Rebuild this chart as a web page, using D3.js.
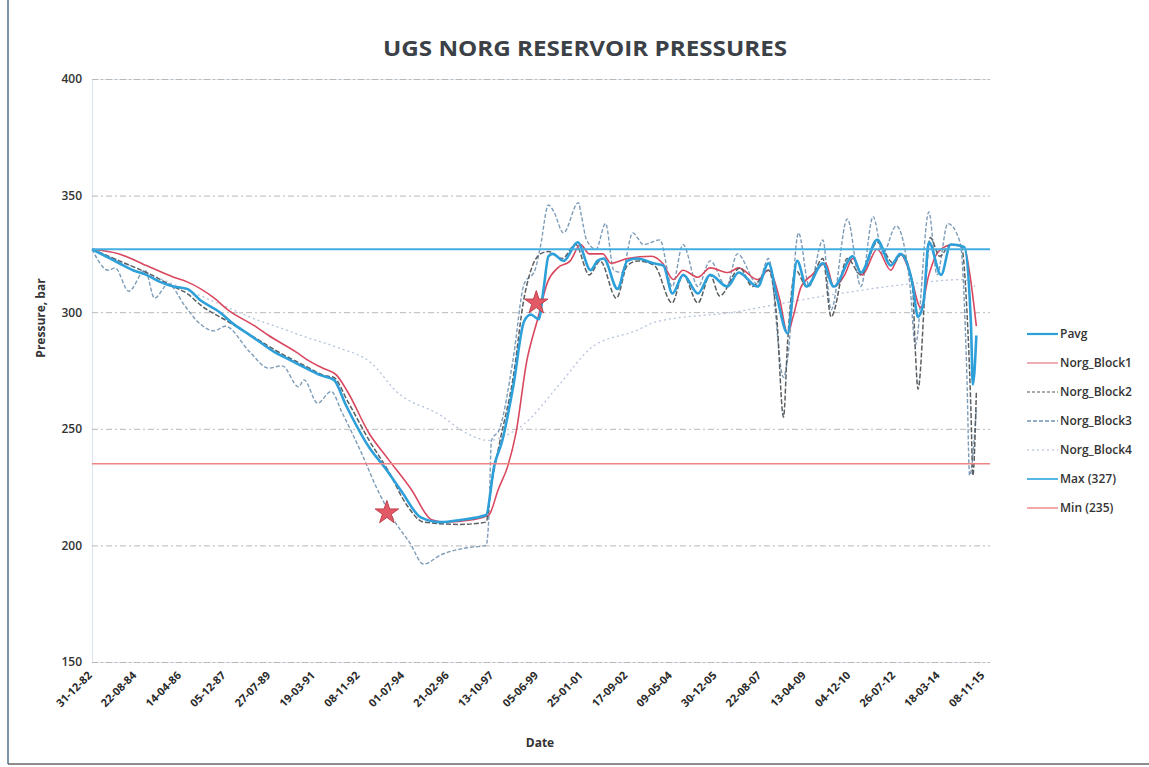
<!DOCTYPE html>
<html><head><meta charset="utf-8">
<script src="https://cdn.jsdelivr.net/npm/d3@7"></script>
<style>
html,body{margin:0;padding:0;background:#fff;}
svg{display:block;font-family:"Open Sans","Noto Sans",sans-serif;}
</style></head>
<body><svg id="chart" width="1149" height="767"></svg>
<script>
// ---------------- DATA ----------------
const chartTitle = "UGS NORG RESERVOIR PRESSURES";
const xTickLabels = ["31-12-82","22-08-84","14-04-86","05-12-87","27-07-89","19-03-91","08-11-92","01-07-94","21-02-96","13-10-97","05-06-99","25-01-01","17-09-02","09-05-04","30-12-05","22-08-07","13-04-09","04-12-10","26-07-12","18-03-14","08-11-15"];
const yTicks = [150,200,250,300,350,400];
const seriesNames = ["Pavg","Norg_Block1","Norg_Block2","Norg_Block3","Norg_Block4","Max (327)","Min (235)"];

// [decimal year, pressure bar]
const pavg = [[1983.0,327],[1983.5,324],[1984.0,321],[1984.5,318],[1985.0,316],[1985.5,313],[1986.0,311],[1986.5,310],[1987.0,305],[1987.7,300],[1988.2,295],[1988.7,291],[1989.2,287],[1989.7,283],[1990.2,280],[1990.7,277],[1991.4,273],[1991.9,271],[1992.35,260],[1993.2,242],[1993.8,233],[1994.4,223],[1995.1,212],[1995.8,210],[1996.6,211],[1997.5,213],[1997.8,234],[1998.1,245],[1998.5,268],[1998.9,296],[1999.15,299],[1999.44,297],[1999.62,310],[1999.8,324],[1999.95,325],[2000.36,322],[2000.87,330],[2001.35,318],[2001.6,322],[2001.83,323],[2002.34,310],[2002.7,322],[2003.07,323],[2003.66,321],[2004.03,320],[2004.36,308],[2004.76,316],[2005.3,308],[2005.75,316],[2006.38,311],[2006.8,317],[2007.5,311],[2007.9,321],[2008.2,307],[2008.6,291],[2008.95,322],[2009.3,311],[2009.9,321],[2010.3,311],[2011.0,324],[2011.3,317],[2011.9,331],[2012.4,320],[2012.75,325],[2013.2,312],[2013.4,298],[2013.6,304],[2013.8,330],[2014.25,316],[2014.6,329],[2015.1,328],[2015.35,295],[2015.42,269],[2015.55,290]];

const block1 = [[1983.0,327],[1984.0,325],[1985.0,320],[1986.0,315],[1986.5,313],[1987.5,306],[1988.0,301],[1989.0,294],[1989.5,290],[1990.5,283],[1991.0,279],[1991.5,276],[1992.0,273],[1992.4,266],[1993.2,248],[1993.9,237],[1994.75,224],[1995.5,211],[1996.0,210],[1997.0,211],[1997.6,213],[1997.95,224],[1998.3,234],[1998.6,248],[1999.0,279],[1999.4,297],[1999.77,313],[2000.14,319],[2000.6,322],[2000.98,329],[2001.3,325],[2001.8,325],[2002.1,321],[2002.7,323],[2003.6,324],[2004.0,321],[2004.4,314],[2004.75,318],[2005.3,315],[2005.75,319],[2006.4,317],[2006.8,319],[2007.5,314],[2007.9,318],[2008.3,306],[2008.6,291],[2008.8,298],[2009.1,311],[2009.5,316],[2010.0,321],[2010.3,311],[2010.7,316],[2011.0,323],[2011.35,316],[2011.9,327],[2012.4,318],[2012.75,325],[2013.1,317],[2013.5,302],[2013.8,316],[2014.15,326],[2014.7,329],[2015.1,328],[2015.3,317],[2015.55,294]];

const block2 = [[1983.0,327],[1984.0,322],[1985.0,317],[1986.0,311],[1986.5,308],[1987.0,303],[1988.0,296],[1989.0,289],[1990.0,282],[1990.5,279],[1991.0,276],[1991.5,273],[1991.9,272],[1992.4,262],[1993.2,245],[1993.9,232],[1994.6,217],[1995.2,210],[1996.5,209],[1997.5,210],[1997.7,226],[1998.0,244],[1998.5,272],[1998.9,306],[1999.1,316],[1999.5,325],[1999.8,326],[2000.3,323],[2000.8,329],[2001.3,316],[2001.7,322],[2002.3,306],[2002.7,320],[2003.1,322],[2003.7,320],[2004.35,304],[2004.75,316],[2005.3,304],[2005.75,316],[2006.1,307],[2006.85,319],[2007.3,311],[2007.9,318],[2008.2,298],[2008.45,255],[2008.6,287],[2008.9,318],[2009.3,311],[2009.9,323],[2010.2,298],[2010.8,323],[2011.3,316],[2011.9,330],[2012.5,321],[2012.8,325],[2013.2,311],[2013.3,284],[2013.4,267],[2013.7,316],[2013.85,332],[2014.2,324],[2014.6,329],[2015.0,328],[2015.2,301],[2015.35,258],[2015.42,230],[2015.55,266]];

const block3 = [[1983.0,327],[1983.6,318],[1983.85,319],[1984.35,309],[1984.95,318],[1985.3,306],[1985.8,312],[1986.4,303],[1986.8,297],[1987.5,292],[1987.9,294],[1988.8,283],[1989.5,276],[1990.0,277],[1990.6,268],[1990.8,271],[1991.3,261],[1991.8,266],[1992.2,257],[1992.9,240],[1993.5,224],[1994.1,211],[1994.7,201],[1995.2,192],[1995.85,196],[1996.8,199],[1997.5,200],[1997.6,211],[1997.7,245],[1998.0,250],[1998.5,280],[1998.9,312],[1999.3,318],[1999.5,328],[1999.8,346],[2000.0,343],[2000.35,334],[2000.9,347],[2001.0,342],[2001.2,331],[2001.55,327],[2001.9,338],[2002.2,318],[2002.5,317],[2002.9,334],[2003.3,329],[2003.9,331],[2004.35,311],[2004.75,329],[2005.3,311],[2005.75,322],[2006.35,311],[2006.75,325],[2007.5,312],[2007.9,323],[2008.45,272],[2008.6,280],[2009.0,334],[2009.4,311],[2009.9,331],[2010.2,301],[2010.8,340],[2011.3,311],[2011.75,341],[2012.1,325],[2012.6,337],[2013.1,312],[2013.3,286],[2013.8,343],[2014.1,316],[2014.5,338],[2014.95,330],[2015.2,273],[2015.3,230],[2015.55,259]];

const block4 = [[1983.0,327],[1984.0,322],[1985.0,317],[1986.0,312],[1987.0,307],[1988.0,302],[1989.0,297],[1990.0,293],[1990.7,290],[1992.0,285],[1993.3,278],[1994.2,266],[1995.8,256],[1996.8,248],[1997.6,245],[1998.2,247],[1998.9,252],[2000.2,269],[2001.4,285],[2003.0,292],[2003.8,296],[2006.6,300],[2008.5,304],[2010.5,308],[2013.0,312],[2015.1,314],[2015.5,311]];

const maxValue = 327;
const minValue = 235;
const starMarks = [[1993.85,214],[1999.35,304]];

// ---------------- LAYOUT ----------------
const svg = d3.select("#chart");
const parseTick = d3.timeParse("%d-%m-%y");
const tickDates = xTickLabels.map(parseTick);
const yearToDate = y => { const yr = Math.floor(y); const a = new Date(yr,0,1), b = new Date(yr+1,0,1); return new Date(+a + (y-yr)*(b-a)); };

const plotL = 92, plotR = 990, plotT = 79, plotB = 662;
const domainEnd = d3.timeDay.offset(tickDates[tickDates.length-1], 73);
const x = d3.scaleTime().domain([tickDates[0], domainEnd]).range([plotL, plotR]);
const y = d3.scaleLinear().domain([150,400]).range([plotB, plotT]);

// frame
svg.append("line").attr("x1",8).attr("x2",8).attr("y1",0).attr("y2",764).attr("stroke","#7d95a8").attr("stroke-width",2);
svg.append("line").attr("x1",8).attr("x2",1149).attr("y1",764).attr("y2",764).attr("stroke","#666").attr("stroke-width",1.5);

// title
svg.append("text").attr("x",585).attr("y",56).attr("text-anchor","middle")
  .attr("font-size",22).attr("font-weight",700).attr("fill","#3b4147")
  .attr("textLength",404).attr("lengthAdjust","spacingAndGlyphs").text(chartTitle);

// grid
const yAxis = d3.axisLeft(y).tickValues(yTicks).tickSize(-(plotR-plotL)).tickPadding(10);
const gy = svg.append("g").attr("transform",`translate(${plotL},0)`).call(yAxis);
gy.select(".domain").attr("stroke","#dbe3ec");
gy.selectAll(".tick line").attr("stroke","#b8b8b8").attr("stroke-dasharray","6,3,2,3").attr("stroke-width",1);
gy.selectAll(".tick text").attr("font-size",12).attr("font-weight",600).attr("fill","#333")
  .attr("font-family","'Open Sans',sans-serif");

// x axis labels
const xAxis = d3.axisBottom(x).tickValues(tickDates).tickFormat((d,i)=>xTickLabels[i]).tickSize(0);
const gx = svg.append("g").attr("transform",`translate(0,${plotB})`).call(xAxis);
gx.select(".domain").remove();
gx.selectAll(".tick text").attr("font-size",11).attr("font-weight",700).attr("fill","#2a2a2a")
  .attr("font-family","'Open Sans',sans-serif")
  .attr("text-anchor","end").attr("dy",0).attr("transform","translate(-2,12) rotate(-45)");

// axis titles
svg.append("text").attr("transform","translate(45,318) rotate(-90)").attr("text-anchor","middle")
  .attr("font-size",12).attr("font-weight",700).attr("fill","#333").text("Pressure, bar");
svg.append("text").attr("x",540).attr("y",747).attr("text-anchor","middle")
  .attr("font-size",12).attr("font-weight",700).attr("fill","#333").text("Date");

// series
const line = d3.line().x(d=>x(yearToDate(d[0]))).y(d=>y(d[1])).curve(d3.curveMonotoneX);
const styles = [
  {data:block4, color:"#b4c2dc", w:1.3, dash:"2,3"},
  {data:block3, color:"#7d9cb8", w:1.4, dash:"4,2"},
  {data:block1, color:"#d9485f", w:1.6, dash:null},
  {data:block2, color:"#5a5f63", w:1.5, dash:"5,2"},
  {data:pavg,   color:"#2d9fd9", w:2.6, dash:null}
];
styles.forEach(s=>{
  svg.append("path").datum(s.data).attr("d",line).attr("fill","none")
    .attr("stroke",s.color).attr("stroke-width",s.w).attr("stroke-linejoin","round")
    .attr("stroke-dasharray",s.dash);
});

// max / min
const fullSpan = x.domain();
svg.append("line").attr("x1",x(fullSpan[0])).attr("x2",x(fullSpan[1])).attr("y1",y(maxValue)).attr("y2",y(maxValue))
  .attr("stroke","#44aee0").attr("stroke-width",2.2);
svg.append("line").attr("x1",x(fullSpan[0])).attr("x2",x(fullSpan[1])).attr("y1",y(minValue)).attr("y2",y(minValue))
  .attr("stroke","#f08484").attr("stroke-width",1.6);

// stars
svg.selectAll("path.star").data(starMarks).enter().append("path").attr("class","star")
  .attr("d",d3.symbol().type(d3.symbolStar).size(170))
  .attr("transform",d=>`translate(${x(yearToDate(d[0]))},${y(d[1])})`)
  .attr("fill","#e25a66").attr("stroke","#c0404c").attr("stroke-width",1);

// legend
const legendStyles = [
  {color:"#2d9fd9", w:2.2, dash:null},
  {color:"#e48a98", w:1.4, dash:null},
  {color:"#8a8f93", w:1.4, dash:"3,2"},
  {color:"#6f94b8", w:1.4, dash:"4,2"},
  {color:"#c4cde0", w:1.3, dash:"2,3"},
  {color:"#44aee0", w:1.8, dash:null},
  {color:"#f08484", w:1.4, dash:null}
];
const lg = svg.append("g");
seriesNames.forEach((n,i)=>{
  const yy = 334 + 29*i;
  lg.append("line").attr("x1",1027).attr("x2",1058).attr("y1",yy).attr("y2",yy)
    .attr("stroke",legendStyles[i].color).attr("stroke-width",legendStyles[i].w).attr("stroke-dasharray",legendStyles[i].dash);
  lg.append("text").attr("x",1060).attr("y",yy+4).attr("font-size",12).attr("font-weight",600)
    .attr("fill","#333").text(n);
});
</script></body></html>
